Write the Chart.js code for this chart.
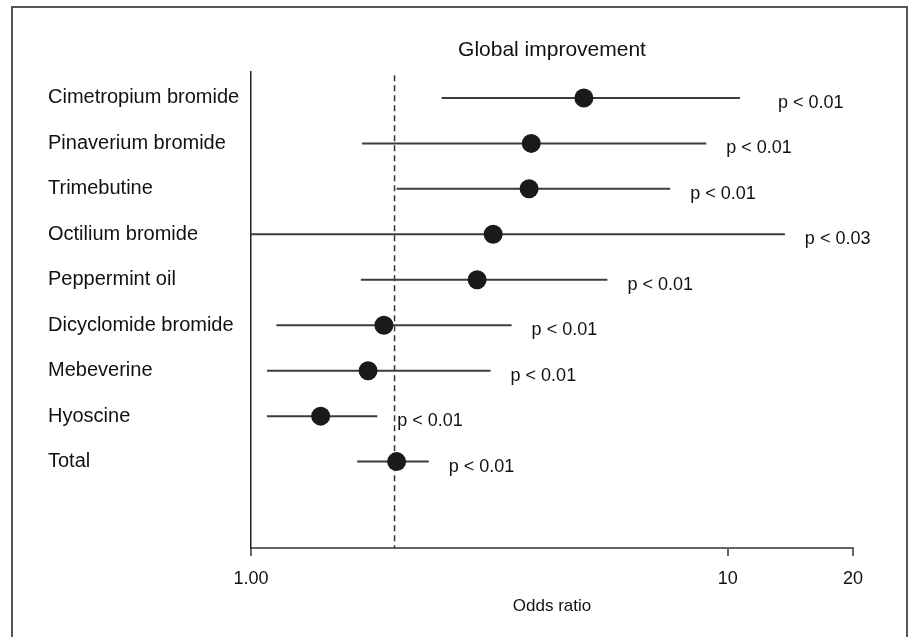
<!DOCTYPE html>
<html>
<head>
<meta charset="utf-8">
<title>Global improvement</title>
<script src="https://cdn.jsdelivr.net/npm/chart.js@4.4.1/dist/chart.umd.min.js"></script>
<style>
  html, body { margin: 0; padding: 0; background: #fff; }
  #wrap { position: relative; width: 909px; height: 637px; }
</style>
</head>
<body>
<div id="wrap"><canvas id="forest" width="909" height="637"></canvas></div>
<script>
// Treatments, top to bottom
const treatments = [
    'Cimetropium bromide',
    'Pinaverium bromide',
    'Trimebutine',
    'Octilium bromide',
    'Peppermint oil',
    'Dicyclomide bromide',
    'Mebeverine',
    'Hyoscine',
    'Total'
];

// Odds ratios with 95% CI
const oddsRatio = [4.99, 3.87, 3.83, 3.22, 2.98, 1.90, 1.76, 1.40, 2.02];
const ciLower   = [2.51, 1.71, 2.02, 1.00, 1.70, 1.13, 1.08, 1.08, 1.67];
const ciUpper   = [10.6, 9.01, 7.57, 13.17, 5.59, 3.52, 3.18, 1.84, 2.36];
const pValues   = ['p < 0.01', 'p < 0.01', 'p < 0.01', 'p < 0.03', 'p < 0.01',
                   'p < 0.01', 'p < 0.01', 'p < 0.01', 'p < 0.01'];

// x axis (log scale)
const axisStart = 1;
const axisEnd = 18.3;
const tickValues = [1, 10, 18.3];
const tickLabels = ['1.00', '10', '20'];
const refLine = 2;

const FONT = "'Liberation Sans', Arial, Helvetica, sans-serif";

// CI whiskers, one short line per treatment
const ciSets = treatments.map((name, i) => ({
    label: name,
    data: [{ x: ciLower[i], y: i }, { x: ciUpper[i], y: i }],
    showLine: true,
    borderColor: '#3c3c3c',
    borderWidth: 2,
    pointRadius: 0,
    order: 2
}));

// Page frame (left, top, right edges)
const framePlugin = {
    id: 'frame',
    beforeDraw(chart) {
        const ctx = chart.ctx;
        ctx.save();
        ctx.strokeStyle = '#555';
        ctx.lineWidth = 2;
        ctx.beginPath();
        ctx.moveTo(12, 637);
        ctx.lineTo(12, 7);
        ctx.lineTo(907, 7);
        ctx.lineTo(907, 637);
        ctx.stroke();
        ctx.restore();
    }
};

// Title + p-value annotations
const textPlugin = {
    id: 'texts',
    afterDatasetsDraw(chart) {
        const { ctx, chartArea } = chart;
        const xs = chart.scales.x;
        const ys = chart.scales.y;
        ctx.save();
        ctx.fillStyle = '#111';
        ctx.font = '21px ' + FONT;
        ctx.textAlign = 'center';
        ctx.textBaseline = 'alphabetic';
        ctx.fillText('Global improvement', (chartArea.left + chartArea.right) / 2, 56);

        ctx.font = '18px ' + FONT;
        ctx.textAlign = 'left';
        ctx.textBaseline = 'middle';
        pValues.forEach((p, i) => {
            // the top row's label sits a little further out
            const gap = i === 0 ? 38 : 20;
            const x = xs.getPixelForValue(ciUpper[i]) + gap;
            const y = ys.getPixelForValue(i) + 5;
            ctx.fillText(p, x, y);
        });
        ctx.restore();
    }
};

new Chart(document.getElementById('forest'), {
    type: 'scatter',
    data: {
        datasets: [
            {
                label: 'Odds ratio',
                data: oddsRatio.map((v, i) => ({ x: v, y: i })),
                backgroundColor: '#1a1a1a',
                borderWidth: 0,
                pointRadius: 9.5,
                order: 0
            },
            ...ciSets,
            {
                label: 'reference',
                data: [{ x: refLine, y: -0.5 }, { x: refLine, y: 9.9 }],
                showLine: true,
                borderColor: '#333',
                borderWidth: 1.5,
                borderDash: [6, 4],
                pointRadius: 0,
                order: 3
            }
        ]
    },
    options: {
        responsive: false,
        animation: false,
        events: [],
        layout: { padding: { left: 48, top: 72, right: 56, bottom: 0 } },
        plugins: {
            legend: { display: false },
            tooltip: { enabled: false },
            title: { display: false }
        },
        scales: {
            x: {
                type: 'logarithmic',
                min: axisStart,
                max: axisEnd,
                afterBuildTicks(scale) {
                    scale.ticks = tickValues.map(v => ({ value: v }));
                },
                afterFit(scale) {
                    scale.height = 89;
                },
                ticks: {
                    autoSkip: false,
                    maxRotation: 0,
                    padding: 12,
                    color: '#111',
                    font: { family: FONT, size: 18 },
                    callback: (val, idx) => tickLabels[idx]
                },
                grid: {
                    display: true,
                    drawOnChartArea: false,
                    drawTicks: true,
                    tickLength: 8,
                    color: '#666',
                    lineWidth: 2
                },
                border: { display: true, color: '#666', width: 2 },
                title: {
                    display: true,
                    text: 'Odds ratio',
                    color: '#111',
                    font: { family: FONT, size: 17 },
                    padding: { top: 0, bottom: 20 }
                }
            },
            y: {
                type: 'linear',
                reverse: true,
                min: -0.57,
                max: 9.9,
                afterBuildTicks(scale) {
                    scale.ticks = treatments.map((t, i) => ({ value: i }));
                },
                afterFit(scale) {
                    scale.width = 251 - 48;
                },
                ticks: {
                    autoSkip: false,
                    crossAlign: 'far',
                    color: '#111',
                    font: { family: FONT, size: 20 },
                    callback: (val, idx) => treatments[idx]
                },
                grid: { display: true, drawOnChartArea: false, drawTicks: false },
                border: { display: true, color: '#222', width: 1.5 }
            }
        }
    },
    plugins: [framePlugin, textPlugin]
});
</script>
</body>
</html>
